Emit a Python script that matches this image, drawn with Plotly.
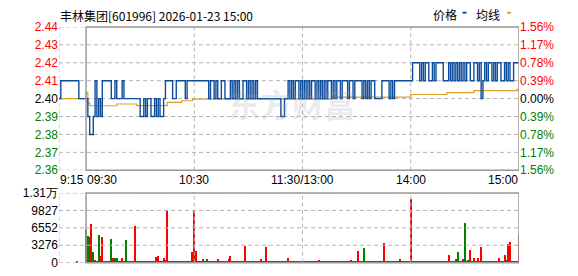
import plotly.graph_objects as go

# ---------------- data ----------------
# minute index: -15 = 9:15, 0 = 9:30, 120 = 11:30/13:00, 240 = 15:00
pre_minutes = list(range(-15, 0))
pre_price = [2.40, 2.41, 2.41, 2.41, 2.41, 2.41, 2.41, 2.41, 2.41, 2.41, 2.41, 2.40, 2.40, 2.40, 2.40]

am_price = [
    2.40, 2.39, 2.38, 2.38, 2.39, 2.41, 2.39, 2.40, 2.39, 2.41,   # 0-9
    2.41, 2.41, 2.41, 2.41, 2.40, 2.40, 2.41, 2.40, 2.40, 2.40,   # 10-19
    2.41, 2.40, 2.40, 2.40, 2.40, 2.40, 2.40, 2.40, 2.40, 2.40,   # 20-29
    2.39, 2.39, 2.40, 2.39, 2.40, 2.40, 2.39, 2.39, 2.40, 2.39,   # 30-39
    2.40, 2.39, 2.39, 2.40, 2.41, 2.41, 2.41, 2.41, 2.40, 2.40,   # 40-49
    2.41, 2.41, 2.41, 2.41, 2.41, 2.40, 2.41, 2.41, 2.41, 2.41,   # 50-59
    2.41, 2.41, 2.41, 2.41, 2.41, 2.41, 2.41, 2.41, 2.40, 2.41,   # 60-69
    2.41, 2.40, 2.41, 2.40, 2.40, 2.41, 2.41, 2.40, 2.40, 2.40,   # 70-79
    2.41, 2.40, 2.41, 2.40, 2.41, 2.40, 2.40, 2.41, 2.41, 2.40,   # 80-89
    2.41, 2.40, 2.41, 2.40, 2.41, 2.40, 2.40, 2.40, 2.40, 2.40,   # 90-99
    2.40, 2.40, 2.40, 2.40, 2.40, 2.40, 2.40, 2.40, 2.39, 2.39,   # 100-109
    2.40, 2.40, 2.41, 2.40, 2.41, 2.40, 2.41, 2.41, 2.40, 2.41,   # 110-119
    2.40,                                                         # 120
]
pm_price = [
    2.41, 2.40, 2.41, 2.40, 2.41, 2.41, 2.40, 2.41, 2.40,         # 121-129
    2.41, 2.40, 2.41, 2.40, 2.41, 2.41, 2.40, 2.41, 2.40, 2.41,   # 130-139
    2.41, 2.40, 2.41, 2.41, 2.41, 2.40, 2.41, 2.41, 2.40, 2.41,   # 140-149
    2.41, 2.41, 2.41, 2.40, 2.41, 2.40, 2.41, 2.40, 2.41, 2.41,   # 150-159
    2.40, 2.40, 2.40, 2.40, 2.41, 2.41, 2.41, 2.41, 2.40, 2.41,   # 160-169
    2.40, 2.41, 2.41, 2.41, 2.41, 2.41, 2.41, 2.41, 2.41, 2.41,   # 170-179
    2.41, 2.42, 2.42, 2.42, 2.42, 2.41, 2.42, 2.41, 2.42, 2.42,   # 180-189
    2.41, 2.41, 2.42, 2.41, 2.42, 2.42, 2.42, 2.42, 2.41, 2.41,   # 190-199
    2.41, 2.42, 2.41, 2.42, 2.41, 2.42, 2.41, 2.42, 2.41, 2.42,   # 200-209
    2.41, 2.42, 2.42, 2.41, 2.41, 2.42, 2.42, 2.41, 2.42, 2.40,   # 210-219
    2.41, 2.42, 2.41, 2.42, 2.42, 2.41, 2.42, 2.41, 2.42, 2.42,   # 220-229
    2.41, 2.41, 2.42, 2.41, 2.42, 2.41, 2.41, 2.42, 2.42, 2.42,   # 230-239
    2.42,                                                         # 240
]

# average line (step changes)
avg_minutes = [-15, 0, 1, 2, 17, 28, 45, 53, 59, 136, 180, 200, 215, 239, 240]
avg_price = [2.4000, 2.4035, 2.3975, 2.3960, 2.3970, 2.3961, 2.3979, 2.3988,
             2.3997, 2.4008, 2.4023, 2.4033, 2.4045, 2.4052, 2.4052]

# volume per minute 0..240
volume = [
    6370, 5060, 4880, 7270, 1900, 480, 180, 5240, 1310, 4760,
    300, 180, 180, 180, 4530, 950, 770, 770, 240, 180,
    950, 240, 4170, 240, 240, 300, 240, 6850, 180, 180,
    180, 180, 180, 180, 180, 180, 180, 180, 180, 1070,
    1310, 180, 240, 890, 480, 9650, 180, 180, 180, 240,
    180, 180, 240, 180, 180, 180, 180, 180, 180, 1900,
    9650, 2200, 180, 180, 180, 600, 180, 600, 180, 180,
    180, 180, 180, 600, 180, 180, 180, 180, 180, 600,
    1310, 180, 180, 180, 180, 180, 180, 180, 3100, 180,
    180, 180, 180, 180, 180, 180, 240, 600, 180, 180,
    2860, 180, 180, 180, 180, 180, 180, 180, 180, 180,
    180, 240, 770, 180, 180, 180, 180, 180, 180, 180,
    180, 180, 180, 180, 180, 180, 180, 180, 180, 480,
    180, 180, 180, 180, 180, 180, 180, 180, 180, 180,
    180, 180, 240, 180, 180, 180, 180, 420, 180, 180,
    180, 2260, 180, 180, 2740, 180, 180, 180, 180, 180,
    180, 180, 180, 180, 180, 3690, 180, 180, 180, 180,
    180, 180, 180, 240, 600, 180, 180, 180, 180, 240,
    12030, 180, 180, 180, 180, 180, 180, 180, 180, 180,
    180, 180, 180, 180, 180, 180, 180, 180, 180, 180,
    180, 1490, 180, 180, 180, 600, 2080, 180, 180, 600,
    7440, 180, 420, 2380, 180, 770, 180, 770, 240, 2920,
    180, 180, 180, 180, 180, 180, 180, 240, 240, 950,
    240, 180, 1490, 420, 3450, 3810, 180, 180, 180, 180,
    5240,
]
pre_volume_minute = [-5]
pre_volume = [300]
green_minutes = [0, 1, 4, 6, 7, 14, 16, 17, 19, 22, 29, 33, 37, 49, 57, 67, 70, 96,
                 104, 125, 138, 154, 160, 170, 190, 205, 206, 210, 212, 218, 230, 233]

price_ticks = [2.36, 2.37, 2.38, 2.39, 2.40, 2.41, 2.42, 2.43, 2.44]
price_labels = ["2.36", "2.37", "2.38", "2.39", "2.40", "2.41", "2.42", "2.43", "2.44"]
pct_labels = ["1.56%", "1.17%", "0.78%", "0.39%", "0.00%", "0.39%", "0.78%", "1.17%", "1.56%"]
vol_ticks = [0, 3276, 6552, 9827, 13103]
vol_labels = ["0", "3276", "6552", "9827", "1.31万"]
x_grid_minutes = [-15, 60, 120, 180]
x_label_pos = [-15, 0, 60, 120, 180, 240]
x_label_text = ["9:15", "09:30", "10:30", "11:30/13:00", "14:00", "15:00"]

title_text = "丰林集团[601996] 2026-01-23 15:00"

# ---------------- styling ----------------
RED, GREEN, BLACK = "#ff0000", "#008000", "#000000"
BLUE_LINE, ORANGE_LINE = "#0d4d9c", "#e0a024"
GRID = "#b4b4b4"
BORDER = "#9a9a9a"
FONT = "Liberation Sans, Arial, sans-serif"
CJK = "Noto Sans CJK SC, sans-serif"
DASH = "4px,3px"

X_RANGE = [-15, 240]
P_RANGE = [2.36, 2.44]
V_RANGE = [0, 13103]


def colored(labels, ticks, mid):
    out = []
    for lab, t in zip(labels, ticks):
        c = RED if t > mid + 1e-9 else (GREEN if t < mid - 1e-9 else BLACK)
        out.append('<span style="color:%s">%s</span>' % (c, lab))
    return out


def grid_xy(hvals, vvals, yr):
    gx, gy = [], []
    for t in hvals:
        gx += [X_RANGE[0], X_RANGE[1], None]
        gy += [t, t, None]
    for m in vvals:
        gx += [m, m, None]
        gy += [yr[0], yr[1], None]
    return gx, gy


price_minutes = pre_minutes + list(range(0, 241))
price_all = pre_price + am_price + pm_price

vol_minutes = pre_volume_minute + list(range(0, 241))
vol_all = pre_volume + volume
vol_colors = [RED] + [GREEN if m in green_minutes else RED for m in range(0, 241)]

fig = go.Figure()
# dashed grids (from the tick values), drawn first so they sit under the data
gx, gy = grid_xy(price_ticks, x_grid_minutes, P_RANGE)
fig.add_trace(go.Scatter(x=gx, y=gy, mode="lines", line=dict(color=GRID, width=1, dash=DASH),
                         xaxis="x", yaxis="y", hoverinfo="skip", cliponaxis=False))
gx, gy = grid_xy(vol_ticks, x_grid_minutes, V_RANGE)
fig.add_trace(go.Scatter(x=gx, y=gy, mode="lines", line=dict(color=GRID, width=1, dash=DASH),
                         xaxis="x2", yaxis="y3", hoverinfo="skip", cliponaxis=False))

fig.add_trace(go.Scatter(x=avg_minutes, y=avg_price, mode="lines",
                         line=dict(color=ORANGE_LINE, width=1.2, shape="hv"),
                         xaxis="x", yaxis="y", hoverinfo="skip"))
fig.add_trace(go.Scatter(x=price_minutes, y=price_all, mode="lines",
                         line=dict(color=BLUE_LINE, width=1.4, shape="hv"),
                         xaxis="x", yaxis="y", hoverinfo="skip"))
fig.add_trace(go.Bar(x=vol_minutes, y=vol_all, marker=dict(color=vol_colors, line=dict(width=0)),
                     width=0.55, xaxis="x2", yaxis="y3", hoverinfo="skip"))
# invisible carrier for the right-hand percent axis
fig.add_trace(go.Scatter(x=X_RANGE, y=P_RANGE, mode="lines", line=dict(width=0),
                         opacity=0, xaxis="x", yaxis="y2", hoverinfo="skip"))

P_TOP, P_BOT = 21, 172
V_TOP, V_BOT = 196, 269.3
H = 276

xcommon = dict(range=X_RANGE, showticklabels=False, showgrid=False,
               zeroline=False, showline=False, ticks="")

fig.update_layout(
    width=578, height=276,
    margin=dict(l=59, r=59, t=0, b=0),
    paper_bgcolor="white", plot_bgcolor="white",
    showlegend=False,
    font=dict(family=FONT, size=12, color=BLACK),
    xaxis=dict(domain=[0, 1], anchor="y", **xcommon),
    xaxis2=dict(domain=[0, 1], anchor="y3", **xcommon),
    yaxis=dict(domain=[1 - P_BOT / H, 1 - P_TOP / H], range=P_RANGE,
               tickvals=price_ticks, ticktext=colored(price_labels, price_ticks, 2.40),
               showgrid=False, zeroline=False, ticks="",
               tickfont=dict(size=12, family=FONT)),
    yaxis2=dict(overlaying="y", side="right", anchor="x", range=P_RANGE,
                tickvals=price_ticks, ticktext=colored(pct_labels, price_ticks, 2.40),
                showgrid=False, zeroline=False, showticklabels=True, ticks="",
                tickfont=dict(size=12, family=FONT)),
    yaxis3=dict(domain=[1 - V_BOT / H, 1 - V_TOP / H], range=V_RANGE,
                tickvals=vol_ticks, ticktext=vol_labels,
                showgrid=False, zeroline=False, ticks="",
                tickfont=dict(size=12, family=FONT, color=BLACK)),
    bargap=0,
)

# solid frames over the trading session
fig.add_shape(type="rect", xref="x", yref="y domain", x0=0, x1=240, y0=0, y1=1,
              line=dict(color=BORDER, width=1.5), layer="above")
fig.add_shape(type="rect", xref="x2", yref="y3 domain", x0=0, x1=240, y0=0, y1=1,
              line=dict(color=BORDER, width=1.5), layer="above")

# x-axis labels
anchors = ["left", "left", "center", "center", "center", "right"]
for pos, txt, anc in zip(x_label_pos, x_label_text, anchors):
    fig.add_annotation(x=pos, y=1 - 182 / H, xref="x", yref="paper", text=txt,
                       showarrow=False, xanchor=anc, yanchor="middle",
                       font=dict(size=12, family=FONT, color=BLACK), borderpad=0)

# title
fig.add_annotation(x=0, y=1 - 8.5 / H, xref="paper", yref="paper", text=title_text,
                   showarrow=False, xanchor="left", yanchor="middle", borderpad=0,
                   font=dict(size=12, family=CJK, color=BLACK))


def px_x(px):
    return (px - 59) / 460.0


def px_y(px):
    return 1 - px / H


# legend (text then marker)
fig.add_annotation(x=px_x(431.5), y=px_y(7.5), xref="paper", yref="paper", text="价格",
                   showarrow=False, xanchor="left", yanchor="middle", borderpad=0,
                   font=dict(size=12, family=CJK, color=BLACK))
fig.add_annotation(x=px_x(475), y=px_y(7.5), xref="paper", yref="paper", text="均线",
                   showarrow=False, xanchor="left", yanchor="middle", borderpad=0,
                   font=dict(size=12, family=CJK, color=BLACK))
fig.add_shape(type="rect", xref="paper", yref="paper", x0=px_x(462.5), x1=px_x(466.5),
              y0=px_y(7), y1=px_y(5), fillcolor=BLUE_LINE, line=dict(width=0))
fig.add_shape(type="rect", xref="paper", yref="paper", x0=px_x(507), x1=px_x(511),
              y0=px_y(7), y1=px_y(5), fillcolor=ORANGE_LINE, line=dict(width=0))

# watermark
fig.add_annotation(x=px_x(292), y=px_y(101), xref="paper", yref="paper", text="<b>东方财富</b>",
                   showarrow=False, xanchor="center", yanchor="middle",
                   font=dict(size=32, family=CJK, color="rgba(160,160,180,0.22)"))

fig.write_html("out.html")
